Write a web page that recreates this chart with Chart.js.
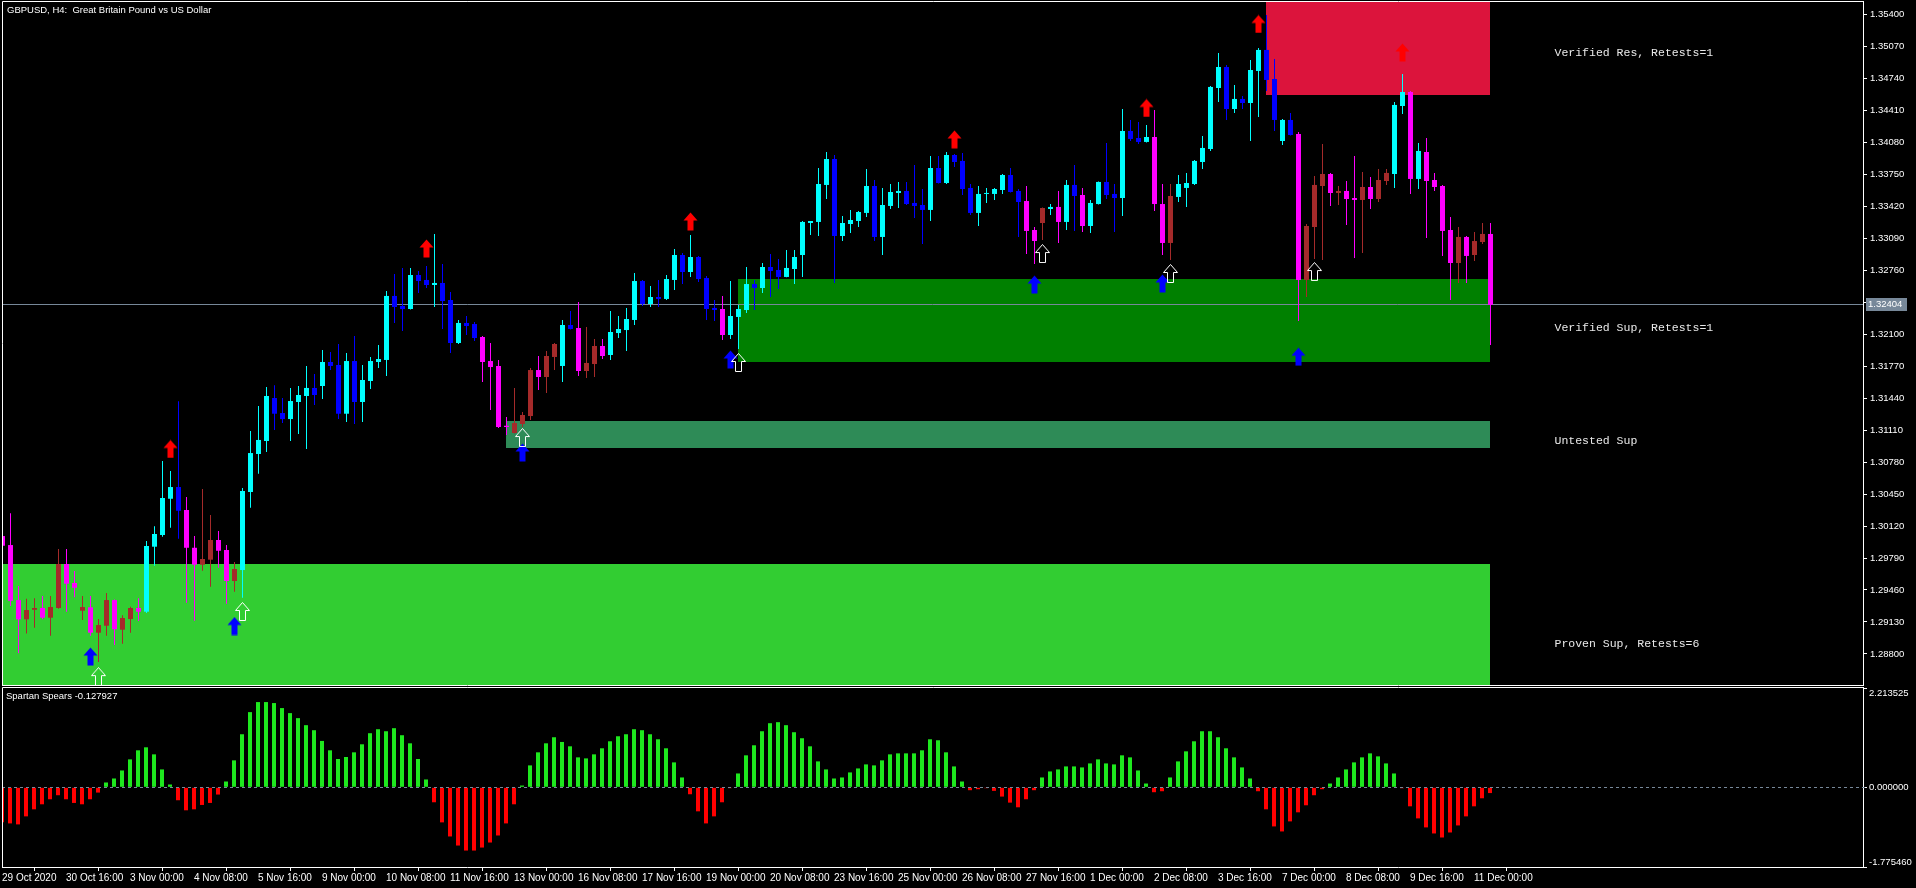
<!DOCTYPE html>
<html>
<head>
<meta charset="utf-8">
<title>GBPUSD, H4</title>
<script src="https://cdn.jsdelivr.net/npm/chart.js@4.4.1/dist/chart.umd.min.js"></script>
<style>
  html, body { margin: 0; padding: 0; background: #000; }
  body { width: 1916px; height: 888px; position: relative; overflow: hidden; }
  #mainChart { position: absolute; left: 0; top: 0; }
  #subChart { position: absolute; left: 0; top: 686px; }
</style>
</head>
<body>
<canvas id="mainChart" width="1916" height="688"></canvas>
<canvas id="subChart" width="1916" height="202"></canvas>
<script>
// ---- data (H4 bars, 29 Oct 2020 08:00 .. 11 Dec 2020 08:00) ----
const chartTitle = "GBPUSD, H4:  Great Britain Pound vs US Dollar";

const opens = [
  1.30017, 1.29924, 1.29356, 1.29157, 1.29256, 1.29274, 1.29174, 1.29274, 1.29728, 1.29532,
  1.29246, 1.29281, 1.29019, 1.29091, 1.29356, 1.29050, 1.29160, 1.29274, 1.29236, 1.29907,
  1.30028, 1.30402, 1.30523, 1.30286, 1.29896, 1.29721, 1.29773, 1.29976, 1.29873, 1.29553,
  1.29666, 1.30472, 1.30864, 1.30998, 1.31442, 1.31287, 1.31225, 1.31401, 1.31463, 1.31546,
  1.31566, 1.31814, 1.31783, 1.31280, 1.31824, 1.31401, 1.31618, 1.31814, 1.31835, 1.32496,
  1.32392, 1.32361, 1.32712, 1.32661, 1.32609, 1.32630, 1.32454, 1.32010, 1.32217, 1.32206,
  1.32072, 1.31824, 1.31773, 1.31156, 1.31081, 1.31174, 1.31256, 1.31731, 1.31659, 1.31866,
  1.31773, 1.32196, 1.32165, 1.31721, 1.31793, 1.31979, 1.31886, 1.32113, 1.32144, 1.32248,
  1.32650, 1.32413, 1.32485, 1.32465, 1.32661, 1.32919, 1.32743, 1.32898, 1.32681, 1.32372,
  1.32361, 1.32093, 1.32279, 1.32351, 1.32619, 1.32578, 1.32795, 1.32764, 1.32692, 1.32774,
  1.32919, 1.33249, 1.33260, 1.33642, 1.33910, 1.33115, 1.33239, 1.33270, 1.33353, 1.33631,
  1.33105, 1.33425, 1.33559, 1.33580, 1.33456, 1.33435, 1.33384, 1.33817, 1.33662, 1.33951,
  1.33890, 1.33611, 1.33353, 1.33549, 1.33549, 1.33590, 1.33745, 1.33580, 1.33476, 1.33177,
  1.33249, 1.33394, 1.33415, 1.33260, 1.33642, 1.33538, 1.33218, 1.33445, 1.33673, 1.33549,
  1.33507, 1.34199, 1.34127, 1.34086, 1.34137, 1.33445, 1.33043, 1.33518, 1.33611, 1.33652,
  1.33879, 1.34013, 1.34643, 1.34860, 1.34426, 1.34530, 1.34488, 1.34819, 1.35036, 1.34736,
  1.34096, 1.34313, 1.34168, 1.32661, 1.33208, 1.33631, 1.33755, 1.33559, 1.33580, 1.33507,
  1.33487, 1.33621, 1.33497, 1.33683, 1.33755, 1.34457, 1.34602, 1.33704, 1.33982, 1.33693,
  1.33631, 1.33177, 1.32836, 1.33105, 1.32919, 1.33053, 1.33136
];
const highs = [
  1.30079, 1.30252, 1.29501, 1.29370, 1.29374, 1.29398, 1.29398, 1.29883, 1.29883, 1.29656,
  1.29398, 1.29398, 1.29160, 1.29429, 1.29362, 1.29198, 1.29287, 1.29374, 1.29966, 1.30117,
  1.30792, 1.30688, 1.31408, 1.30420, 1.30017, 1.30503, 1.30234, 1.30069, 1.29924, 1.29749,
  1.30513, 1.31101, 1.31360, 1.31556, 1.31573, 1.31442, 1.31546, 1.31566, 1.31773, 1.31690,
  1.31938, 1.31917, 1.32000, 1.31907, 1.32082, 1.31783, 1.31866, 1.31990, 1.32547, 1.32723,
  1.32785, 1.32785, 1.32754, 1.32805, 1.33136, 1.32826, 1.32537, 1.32248, 1.32289, 1.32227,
  1.32082, 1.32010, 1.31835, 1.31246, 1.31546, 1.31298, 1.31752, 1.31876, 1.31928, 1.32010,
  1.32248, 1.32341, 1.32434, 1.32175, 1.32051, 1.32051, 1.32341, 1.32289, 1.32372, 1.32733,
  1.32661, 1.32599, 1.32661, 1.32712, 1.32981, 1.32940, 1.33125, 1.32909, 1.32702, 1.32454,
  1.32496, 1.32650, 1.32403, 1.32795, 1.32661, 1.32836, 1.32929, 1.32878, 1.32970, 1.32970,
  1.33270, 1.33270, 1.33817, 1.33982, 1.33951, 1.33322, 1.33384, 1.33373, 1.33807, 1.33693,
  1.33611, 1.33652, 1.33673, 1.33673, 1.33848, 1.33600, 1.33941, 1.33941, 1.33982, 1.33962,
  1.33972, 1.33652, 1.33631, 1.33611, 1.33611, 1.33755, 1.33817, 1.33600, 1.33631, 1.33208,
  1.33410, 1.33445, 1.33580, 1.33693, 1.33848, 1.33611, 1.33487, 1.33678, 1.34075, 1.33652,
  1.34426, 1.34313, 1.34292, 1.34261, 1.34416, 1.33652, 1.33652, 1.33745, 1.33766, 1.33900,
  1.34148, 1.34664, 1.35005, 1.34881, 1.34674, 1.34561, 1.34932, 1.35056, 1.35397, 1.34943,
  1.34323, 1.34385, 1.34189, 1.33239, 1.33735, 1.34065, 1.33766, 1.33631, 1.33683, 1.33941,
  1.33776, 1.33724, 1.33807, 1.33807, 1.34499, 1.34788, 1.34612, 1.34075, 1.34127, 1.33766,
  1.33642, 1.33311, 1.33208, 1.33115, 1.33156, 1.33249, 1.33249
];
const lows = [
  1.29873, 1.29294, 1.28806, 1.29012, 1.29070, 1.29157, 1.28988, 1.29267, 1.29236, 1.29384,
  1.29150, 1.28988, 1.28716, 1.28988, 1.28892, 1.28905, 1.29019, 1.29140, 1.29222, 1.29711,
  1.30010, 1.30103, 1.29989, 1.29328, 1.29143, 1.29659, 1.29494, 1.29690, 1.29318, 1.29442,
  1.29380, 1.30309, 1.30661, 1.30885, 1.31112, 1.31184, 1.30998, 1.31071, 1.30916, 1.31370,
  1.31432, 1.31731, 1.31225, 1.31194, 1.31174, 1.31194, 1.31535, 1.31752, 1.31669, 1.32217,
  1.32134, 1.32355, 1.32526, 1.32578, 1.32382, 1.32155, 1.31907, 1.32000, 1.32093, 1.32031,
  1.31607, 1.31318, 1.31132, 1.31060, 1.31075, 1.31143, 1.31215, 1.31525, 1.31494, 1.31731,
  1.31607, 1.32150, 1.31669, 1.31649, 1.31659, 1.31845, 1.31835, 1.32062, 1.31928, 1.32196,
  1.32392, 1.32382, 1.32382, 1.32454, 1.32557, 1.32619, 1.32692, 1.32640, 1.32248, 1.32237,
  1.32041, 1.32051, 1.31948, 1.32320, 1.32351, 1.32526, 1.32485, 1.32568, 1.32688, 1.32619,
  1.32692, 1.33125, 1.33115, 1.33497, 1.32630, 1.33063, 1.33146, 1.33208, 1.33311, 1.33063,
  1.32919, 1.33394, 1.33404, 1.33435, 1.33301, 1.33032, 1.33270, 1.33658, 1.33652, 1.33828,
  1.33538, 1.33332, 1.33218, 1.33456, 1.33487, 1.33549, 1.33565, 1.33105, 1.32929, 1.32826,
  1.33074, 1.33332, 1.33043, 1.33177, 1.33167, 1.33156, 1.33146, 1.33440, 1.33497, 1.33156,
  1.33322, 1.34096, 1.34065, 1.34080, 1.33373, 1.32919, 1.32867, 1.33466, 1.33415, 1.33642,
  1.33807, 1.33993, 1.34499, 1.34313, 1.34385, 1.34426, 1.34096, 1.34344, 1.34612, 1.34199,
  1.34055, 1.34152, 1.32237, 1.32485, 1.32878, 1.32867, 1.33425, 1.33435, 1.33229, 1.32888,
  1.32940, 1.33394, 1.33466, 1.33642, 1.33611, 1.34375, 1.33549, 1.33600, 1.33094, 1.33580,
  1.32909, 1.32454, 1.32630, 1.32630, 1.32857, 1.33032, 1.31990
];
const closes = [
  1.29917, 1.29349, 1.29157, 1.29253, 1.29274, 1.29174, 1.29284, 1.29728, 1.29525, 1.29483,
  1.29284, 1.29019, 1.29098, 1.29356, 1.29054, 1.29171, 1.29274, 1.29236, 1.29914, 1.30038,
  1.30410, 1.30523, 1.30278, 1.29896, 1.29721, 1.29780, 1.29976, 1.29865, 1.29553, 1.29677,
  1.30482, 1.30874, 1.31009, 1.31463, 1.31280, 1.31225, 1.31411, 1.31473, 1.31546, 1.31473,
  1.31814, 1.31773, 1.31280, 1.31824, 1.31401, 1.31628, 1.31824, 1.31845, 1.32496, 1.32382,
  1.32361, 1.32712, 1.32650, 1.32609, 1.32630, 1.32444, 1.32010, 1.32217, 1.32186, 1.32062,
  1.31814, 1.31762, 1.31143, 1.31143, 1.31184, 1.31267, 1.31731, 1.31659, 1.31876, 1.32000,
  1.32196, 1.32155, 1.31721, 1.31804, 1.31979, 1.31876, 1.32124, 1.32155, 1.32258, 1.32650,
  1.32413, 1.32485, 1.32465, 1.32671, 1.32919, 1.32743, 1.32898, 1.32671, 1.32361, 1.32351,
  1.32093, 1.32289, 1.32361, 1.32619, 1.32578, 1.32795, 1.32754, 1.32692, 1.32785, 1.32898,
  1.33260, 1.33270, 1.33652, 1.33910, 1.33115, 1.33249, 1.33280, 1.33363, 1.33631, 1.33105,
  1.33435, 1.33569, 1.33580, 1.33445, 1.33425, 1.33384, 1.33817, 1.33662, 1.33951, 1.33879,
  1.33600, 1.33353, 1.33549, 1.33559, 1.33600, 1.33745, 1.33569, 1.33466, 1.33167, 1.33063,
  1.33404, 1.33415, 1.33260, 1.33642, 1.33528, 1.33218, 1.33456, 1.33673, 1.33538, 1.33507,
  1.34199, 1.34117, 1.34086, 1.34137, 1.33445, 1.33043, 1.33528, 1.33652, 1.33662, 1.33890,
  1.34024, 1.34654, 1.34860, 1.34426, 1.34530, 1.34488, 1.34829, 1.35036, 1.34726, 1.34313,
  1.34313, 1.34158, 1.32661, 1.33218, 1.33642, 1.33755, 1.33559, 1.33580, 1.33497, 1.33487,
  1.33621, 1.33497, 1.33693, 1.33766, 1.34468, 1.34602, 1.33704, 1.33993, 1.33683, 1.33621,
  1.33167, 1.32836, 1.33105, 1.32909, 1.33063, 1.33136, 1.32404
];
// candle colouring state: u = up-trend (aqua / blue), d = down-trend (brown / magenta)
const trend = (
  "dddddddddddddddddd" + "uuuuu" + "ddddddd" +
  "uuuuuuuuuuuuuuuuuuuuuuuuuuuuuu" + "dddddddddd" + "uu" + "dddd" +
  "uuuuuuuuuuuuuu" + "d" + "uuuuuuuuuuuuuuuuuuuuuuuuuuuuuuuuuuuuu" +
  "ddd" + "u" + "d" + "uu" + "d" + "uuuuuuuu" + "ddd" + "uuuuuuuuuuuuuuu" +
  "dddddddddddd" + "uu" + "d" + "u" + "ddddddddd"
).split("");

// Spartan Spears histogram (sub window)
const spears = [
  -0.780, -0.804, -0.826, -0.647, -0.490, -0.378, -0.266, -0.176, -0.266, -0.348,
  -0.378, -0.266, -0.117, 0.108, 0.197, 0.376, 0.623, 0.825, 0.892, 0.735,
  0.399, 0.063, -0.288, -0.512, -0.490, -0.393, -0.348, -0.161, 0.130, 0.601,
  1.183, 1.676, 1.900, 1.900, 1.878, 1.766, 1.654, 1.542, 1.385, 1.273,
  1.034, 0.825, 0.631, 0.676, 0.780, 0.959, 1.206, 1.295, 1.250, 1.318,
  1.161, 0.981, 0.631, 0.175, -0.333, -0.781, -1.095, -1.297, -1.409, -1.409,
  -1.342, -1.230, -1.073, -0.804, -0.378, 0.040, 0.489, 0.780, 0.981, 1.116,
  1.011, 0.914, 0.668, 0.645, 0.735, 0.870, 1.026, 1.138, 1.183, 1.295,
  1.273, 1.183, 1.071, 0.870, 0.556, 0.220, -0.154, -0.535, -0.804, -0.647,
  -0.333, -0.019, 0.309, 0.713, 0.937, 1.250, 1.429, 1.452, 1.385, 1.228,
  1.094, 0.914, 0.578, 0.399, 0.197, 0.220, 0.332, 0.421, 0.511, 0.489,
  0.601, 0.735, 0.757, 0.757, 0.757, 0.825, 1.071, 1.049, 0.780, 0.466,
  0.130, -0.064, -0.042, -0.019, -0.079, -0.206, -0.341, -0.445, -0.266, -0.064,
  0.220, 0.354, 0.399, 0.466, 0.466, 0.444, 0.533, 0.623, 0.533, 0.511,
  0.713, 0.668, 0.376, 0.085, -0.109, -0.087, 0.220, 0.578, 0.802, 1.026,
  1.250, 1.250, 1.116, 0.870, 0.668, 0.444, 0.197, -0.087, -0.490, -0.871,
  -0.983, -0.759, -0.557, -0.400, -0.176, -0.042, 0.085, 0.220, 0.399, 0.556,
  0.668, 0.757, 0.690, 0.533, 0.309, -0.020, -0.423, -0.692, -0.893, -1.028,
  -1.118, -1.006, -0.849, -0.647, -0.423, -0.244, -0.127927
];

// supply / demand zones
const zoneNames = ["Verified Res, Retests=1", "Verified Sup, Retests=1", "Untested Sup", "Proven Sup, Retests=6"];
const zoneFrom = [158, 92, 63, -1];
const zoneTo = [186, 186, 186, 186];
const zoneHigh = [1.35600, 1.32671, 1.31205, 1.29728];
const zoneLow = [1.34571, 1.31817, 1.30929, 1.28400];
const zoneColors = ["#dc143c", "#008000", "#2e8b57", "#32cd32"];
const zoneLabelPrice = [1.35005, 1.32170, 1.30998, 1.28902];
const zoneLabelBar = 194;

// signal arrows
const redArrowBars = [21, 53, 86, 119, 143, 157, 175];
const redArrowPrices = [1.30916, 1.32986, 1.33265, 1.34112, 1.34437, 1.35304, 1.35010];
const blueArrowBars = [11, 29, 65, 91, 129, 145, 162];
const blueArrowPrices = [1.28773, 1.29088, 1.30880, 1.31840, 1.32614, 1.32625, 1.31869];
const whiteArrowBars = [12, 30, 65, 92, 130, 146, 164];
const whiteArrowPrices = [1.28566, 1.29238, 1.31034, 1.31809, 1.32934, 1.32728, 1.32748];

// axes
const priceTicks = [1.35400, 1.35070, 1.34740, 1.34410, 1.34080, 1.33750, 1.33420, 1.33090, 1.32760, 1.32430,
  1.32100, 1.31770, 1.31440, 1.31110, 1.30780, 1.30450, 1.30120, 1.29790, 1.29460, 1.29130, 1.28800];
const subTicks = [2.213525, 0, -1.775460];
const xLabels = ["29 Oct 2020", "30 Oct 16:00", "3 Nov 00:00", "4 Nov 08:00", "5 Nov 16:00", "9 Nov 00:00",
  "10 Nov 08:00", "11 Nov 16:00", "13 Nov 00:00", "16 Nov 08:00", "17 Nov 16:00", "19 Nov 00:00",
  "20 Nov 08:00", "23 Nov 16:00", "25 Nov 00:00", "26 Nov 08:00", "27 Nov 16:00", "1 Dec 00:00",
  "2 Dec 08:00", "3 Dec 16:00", "7 Dec 00:00", "8 Dec 08:00", "9 Dec 16:00", "11 Dec 00:00"];
const xLabelBars = [0, 8, 16, 24, 32, 40, 48, 56, 64, 72, 80, 88, 96, 104, 112, 120, 128, 136, 144, 152, 160, 168, 176, 184];

// ---- styling ----
const UI_FONT = '"Liberation Sans", Arial, sans-serif';
const MONO_FONT = '"Liberation Mono", "Courier New", monospace';
const PRICE_MIN = 1.28479, PRICE_MAX = 1.35531;
const AXIS_W = 53;

function candleColor(i) {
    const bull = closes[i] >= opens[i];
    if (trend[i] === "u") return bull ? "#00ffff" : "#0000ff";
    return bull ? "#a52a2a" : "#ff00ff";
}

// arrow glyph as a small canvas used as point style
function makeArrow(fill, stroke) {
    const c = document.createElement("canvas");
    c.width = 15; c.height = 19;
    const g = c.getContext("2d");
    g.beginPath();
    g.moveTo(7.5, 0.5);
    g.lineTo(14.5, 8.5);
    g.lineTo(10.5, 8.5);
    g.lineTo(10.5, 18.5);
    g.lineTo(4.5, 18.5);
    g.lineTo(4.5, 8.5);
    g.lineTo(0.5, 8.5);
    g.closePath();
    if (fill) { g.fillStyle = fill; g.fill(); }
    if (stroke) { g.strokeStyle = stroke; g.lineWidth = 1; g.stroke(); }
    return c;
}

// keep the plot area flush with the window frame (no label overhang padding)
function noOverhang(s) {
    s.paddingTop = 0;
    s.paddingBottom = 0;
    s.paddingLeft = 0;
    s.paddingRight = 0;
}

const bars = opens.map((_, i) => i);
const lastClose = closes[closes.length - 1];

const mainDecor = {
    id: "mainDecor",
    beforeDatasetsDraw(chart) {
        const { ctx, chartArea: a, scales: { x, y } } = chart;
        ctx.save();
        ctx.beginPath();
        ctx.rect(a.left, a.top, a.right - a.left, a.bottom - a.top);
        ctx.clip();
        zoneNames.forEach((name, k) => {
            const x0 = Math.floor(x.getPixelForValue(zoneFrom[k]));
            const x1 = Math.floor(x.getPixelForValue(zoneTo[k]));
            const y0 = Math.round(y.getPixelForValue(zoneHigh[k]));
            const y1 = Math.round(y.getPixelForValue(zoneLow[k]));
            ctx.fillStyle = zoneColors[k];
            ctx.fillRect(x0, y0, x1 - x0, y1 - y0);
        });
        // bid line
        const by = Math.round(y.getPixelForValue(lastClose)) - 0.5;
        ctx.strokeStyle = "#778899";
        ctx.lineWidth = 1;
        ctx.beginPath();
        ctx.moveTo(a.left, by);
        ctx.lineTo(a.right, by);
        ctx.stroke();
        ctx.restore();
    },
    afterDraw(chart) {
        const { ctx, chartArea: a, scales: { x, y } } = chart;
        ctx.save();
        // window frame
        ctx.strokeStyle = "#ffffff";
        ctx.lineWidth = 1;
        ctx.beginPath();
        ctx.moveTo(a.left + 0.5, a.bottom + 1);
        ctx.lineTo(a.left + 0.5, a.top - 0.5);
        ctx.lineTo(a.right + 1, a.top - 0.5);
        ctx.moveTo(a.left, a.bottom + 0.5);
        ctx.lineTo(a.right + 1, a.bottom + 0.5);
        ctx.stroke();

        ctx.textAlign = "left";
        ctx.textBaseline = "middle";
        ctx.fillStyle = "#ffffff";
        ctx.font = "9.5px " + UI_FONT;
        ctx.fillText(chartTitle, a.left + 5, a.top + 8);

        // zone captions
        ctx.font = "11.5px " + MONO_FONT;
        ctx.fillStyle = "#e8e8e8";
        zoneNames.forEach((name, k) => {
            ctx.fillText(name, x.getPixelForValue(zoneLabelBar), y.getPixelForValue(zoneLabelPrice[k]));
        });

        // bid price box on the axis
        const by = Math.round(y.getPixelForValue(lastClose));
        ctx.fillStyle = "#778899";
        ctx.fillRect(a.right + 3, by - 7, 41, 13);
        ctx.fillStyle = "#ffffff";
        ctx.font = "9.5px " + UI_FONT;
        ctx.fillText(lastClose.toFixed(5), a.right + 5, by - 0.5);
        ctx.restore();
    }
};

new Chart(document.getElementById("mainChart"), {
    type: "bar",
    data: {
        datasets: [
            {
                type: "scatter",
                data: redArrowBars.map((b, k) => ({ x: b, y: redArrowPrices[k] })),
                pointStyle: makeArrow("#ff0000", null),
                pointRadius: 3
            },
            {
                type: "scatter",
                data: whiteArrowBars.map((b, k) => ({ x: b, y: whiteArrowPrices[k] })),
                pointStyle: makeArrow(null, "#ffffff"),
                pointRadius: 3
            },
            {
                type: "scatter",
                data: blueArrowBars.map((b, k) => ({ x: b, y: blueArrowPrices[k] })),
                pointStyle: makeArrow("#0000ff", null),
                pointRadius: 3
            },
            {
                // candle bodies
                data: bars.map(i => ({ x: i, y: [Math.min(opens[i], closes[i]), Math.max(opens[i], closes[i])] })),
                backgroundColor: bars.map(candleColor),
                barThickness: 5,
                grouped: false,
                minBarLength: 1,
                inflateAmount: 0,
                borderWidth: 0
            },
            {
                // wicks
                data: bars.map(i => ({ x: i, y: [lows[i], highs[i]] })),
                backgroundColor: bars.map(candleColor),
                barThickness: 1,
                grouped: false,
                inflateAmount: 0,
                borderWidth: 0
            }
        ]
    },
    options: {
        responsive: false,
        animation: false,
        events: [],
        layout: { autoPadding: false, padding: { left: 2, top: 2, right: 0, bottom: 3 } },
        scales: {
            x: {
                type: "linear",
                display: false,
                offset: false,
                min: -0.0625,
                max: 232.5625
            },
            y: {
                position: "right",
                min: PRICE_MIN,
                max: PRICE_MAX,
                bounds: "data",
                afterFit: s => { s.width = AXIS_W; noOverhang(s); },
                afterBuildTicks: s => { s.ticks = priceTicks.map(v => ({ value: v })); },
                ticks: {
                    color: "#ffffff",
                    font: { family: UI_FONT, size: 9.5 },
                    padding: 3,
                    autoSkip: false,
                    callback: v => v.toFixed(5)
                },
                grid: { drawOnChartArea: false, tickLength: 4, tickColor: "#ffffff" },
                border: { display: true, color: "#ffffff" }
            }
        },
        plugins: { legend: { display: false }, tooltip: { enabled: false } }
    },
    plugins: [mainDecor]
});

const subDecor = {
    id: "subDecor",
    afterDatasetsDraw(chart) {
        const { ctx, chartArea: a, scales: { y } } = chart;
        ctx.save();
        const zy = Math.round(y.getPixelForValue(0)) + 0.5;
        ctx.strokeStyle = "#778899";
        ctx.setLineDash([3, 3]);
        ctx.beginPath();
        ctx.moveTo(a.left, zy);
        ctx.lineTo(a.right + 4, zy);
        ctx.stroke();
        ctx.setLineDash([]);
        ctx.restore();
    },
    afterDraw(chart) {
        const { ctx, chartArea: a, scales: { y } } = chart;
        ctx.save();
        ctx.strokeStyle = "#ffffff";
        ctx.lineWidth = 1;
        ctx.beginPath();
        ctx.moveTo(a.left + 0.5, a.bottom + 1);
        ctx.lineTo(a.left + 0.5, a.top - 0.5);
        ctx.lineTo(a.right + 1, a.top - 0.5);
        ctx.stroke();

        ctx.fillStyle = "#ffffff";
        ctx.font = "9.5px " + UI_FONT;
        ctx.textAlign = "left";
        ctx.textBaseline = "middle";
        ctx.fillText("Spartan Spears " + spears[spears.length - 1].toFixed(6), a.left + 4, a.top + 8);

        subTicks.forEach(v => {
            let py = y.getPixelForValue(v);
            py = Math.min(Math.max(py, a.top + 5), a.bottom - 5);
            ctx.fillText(v.toFixed(6), a.right + 6, py);
        });
        ctx.restore();
    }
};

new Chart(document.getElementById("subChart"), {
    type: "bar",
    data: {
        datasets: [{
            data: bars.map(i => ({ x: i, y: spears[i] })),
            backgroundColor: spears.map(v => v > 0 ? "#1ee81e" : "#ff0000"),
            barThickness: 4,
            grouped: false,
            inflateAmount: 0,
            borderWidth: 0
        }]
    },
    options: {
        responsive: false,
        animation: false,
        events: [],
        layout: { autoPadding: false, padding: { left: 2, top: 2, right: 0, bottom: 0 } },
        scales: {
            x: {
                type: "linear",
                offset: false,
                min: 0,
                max: 232.625,
                afterFit: s => { s.height = 21; noOverhang(s); },
                afterBuildTicks: s => { s.ticks = xLabelBars.map(v => ({ value: v })); },
                ticks: {
                    color: "#ffffff",
                    font: { family: UI_FONT, size: 10 },
                    padding: 1,
                    align: "start",
                    autoSkip: false,
                    maxRotation: 0,
                    minRotation: 0,
                    callback: (v, idx) => xLabels[idx]
                },
                grid: { drawOnChartArea: false, tickLength: 4, tickColor: "#ffffff" },
                border: { display: true, color: "#ffffff" }
            },
            y: {
                position: "right",
                min: subTicks[2],
                max: subTicks[0],
                bounds: "data",
                afterFit: s => { s.width = AXIS_W; noOverhang(s); },
                afterBuildTicks: s => { s.ticks = subTicks.map(v => ({ value: v })); },
                ticks: { display: false },
                grid: { drawOnChartArea: false, tickLength: 4, tickColor: "#ffffff" },
                border: { display: true, color: "#ffffff" }
            }
        },
        plugins: { legend: { display: false }, tooltip: { enabled: false } }
    },
    plugins: [subDecor]
});
</script>
</body>
</html>
